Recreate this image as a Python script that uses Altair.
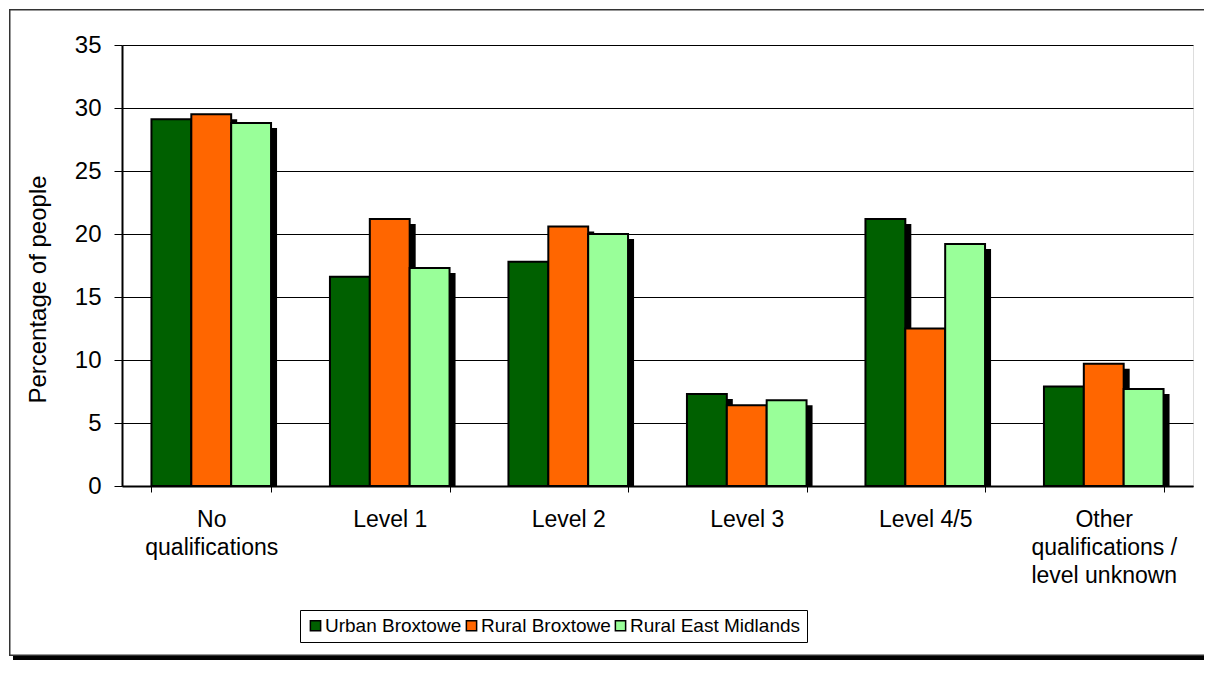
import altair as alt
import pandas as pd

categories = ["No|qualifications", "Level 1", "Level 2", "Level 3", "Level 4/5",
              "Other|qualifications /|level unknown"]
series = ["Urban Broxtowe", "Rural Broxtowe", "Rural East Midlands"]
colors = ["#006000", "#FF6600", "#99FF99"]

urban_broxtowe = [29.1, 16.6, 17.8, 7.3, 21.2, 7.9]
rural_broxtowe = [29.5, 21.2, 20.6, 6.4, 12.5, 9.7]
rural_east_midlands = [28.8, 17.3, 20.0, 6.8, 19.2, 7.7]

y_ticks = [0, 5, 10, 15, 20, 25, 30, 35]

rows = []
for s, vals in zip(series, [urban_broxtowe, rural_broxtowe, rural_east_midlands]):
    for c, v in zip(categories, vals):
        rows.append({"category": c, "series": s, "value": v})
df = pd.DataFrame(rows)

FONT = "Liberation Sans"
W, H = 1071, 441
PAD = {"left": 114, "top": 37, "right": 11, "bottom": 174}
SHX, SHY = 6, 5  # shadow offsets in px

x_axis = alt.Axis(title=None, labelExpr="split(datum.label, '|')", labelAngle=0,
                  labelFontSize=23, labelLineHeight=28, labelPadding=16,
                  labelFont=FONT, labelColor="black", tickSize=6, tickBand="extent",
                  domainColor="black", domainWidth=2, tickColor="black", tickWidth=1,
                  grid=False)
y_axis = alt.Axis(values=y_ticks, title="Percentage of people", titleFontSize=24,
                  titleFontWeight="normal", titleFont=FONT, titleColor="black",
                  titleX=-77, titleY=244, titleAngle=270, titleAlign="center",
                  titleBaseline="alphabetic",
                  labelFontSize=24, labelFont=FONT, labelColor="black",
                  tickSize=8, labelPadding=13, grid=True, gridColor="black",
                  gridWidth=1, domainColor="black", domainWidth=2,
                  tickColor="black", tickWidth=1)

x_enc = alt.X("category:N", sort=categories,
              scale=alt.Scale(paddingInner=0.33, paddingOuter=0.165), axis=x_axis)

shadow = alt.Chart(df).mark_bar(color="black", clip=True).encode(
    x=x_enc,
    xOffset=alt.XOffset("series:N", sort=series,
                        scale=alt.Scale(paddingInner=0, paddingOuter=0,
                                        range=[SHX, 119.6 + SHX])),
    y=alt.Y("value:Q", axis=None,
            scale=alt.Scale(domain=[0, 35], nice=False, range=[H + SHY, SHY])),
)

bars = alt.Chart(df).mark_bar(stroke="black", strokeWidth=2).encode(
    x=x_enc,
    xOffset=alt.XOffset("series:N", sort=series,
                        scale=alt.Scale(paddingInner=0, paddingOuter=0)),
    y=alt.Y("value:Q", scale=alt.Scale(domain=[0, 35], nice=False), axis=y_axis),
    color=alt.Color(
        "series:N",
        scale=alt.Scale(domain=series, range=colors),
        legend=alt.Legend(
            title=None, orient="none", legendX=178, legendY=565,
            direction="horizontal", strokeColor="black", padding=6,
            columnPadding=0, labelOffset=0, symbolType="square",
            symbolSize=105, symbolStrokeColor="black", symbolStrokeWidth=1.5,
            labelFontSize=19, labelFont=FONT, labelColor="black", labelLimit=0,
        ),
    ),
)

decor = alt.Data(values=[{"d": 1}])
LEFT = -PAD["left"] + 1
TOP = -PAD["top"] + 1
RIGHT = W + PAD["right"]
BOTTOM = H + PAD["bottom"] - 4


def band(x, x2, y, y2, color):
    return alt.Chart(decor).mark_rect(color=color).encode(
        x=alt.value(x), x2=alt.value(x2), y=alt.value(y), y2=alt.value(y2)
    )


outer_shadow = band(LEFT + 4, RIGHT, BOTTOM, BOTTOM + 4, "black")
top_line = band(LEFT, RIGHT, TOP, TOP + 1.5, "#333333")
left_line = band(LEFT, LEFT + 1.5, TOP, BOTTOM, "#333333")
bottom_line = band(LEFT, RIGHT, BOTTOM - 1.5, BOTTOM, "#333333")

chart = alt.layer(outer_shadow, top_line, left_line, bottom_line, shadow, bars).resolve_scale(
    xOffset="independent", y="independent"
).properties(
    width=W, height=H,
    padding=PAD,
    autosize=alt.AutoSizeParams(type="none"),
).configure_view(stroke="black", strokeWidth=1.5).configure(background="white")

chart.save("out.html", embed_options={"renderer": "svg", "actions": False})
